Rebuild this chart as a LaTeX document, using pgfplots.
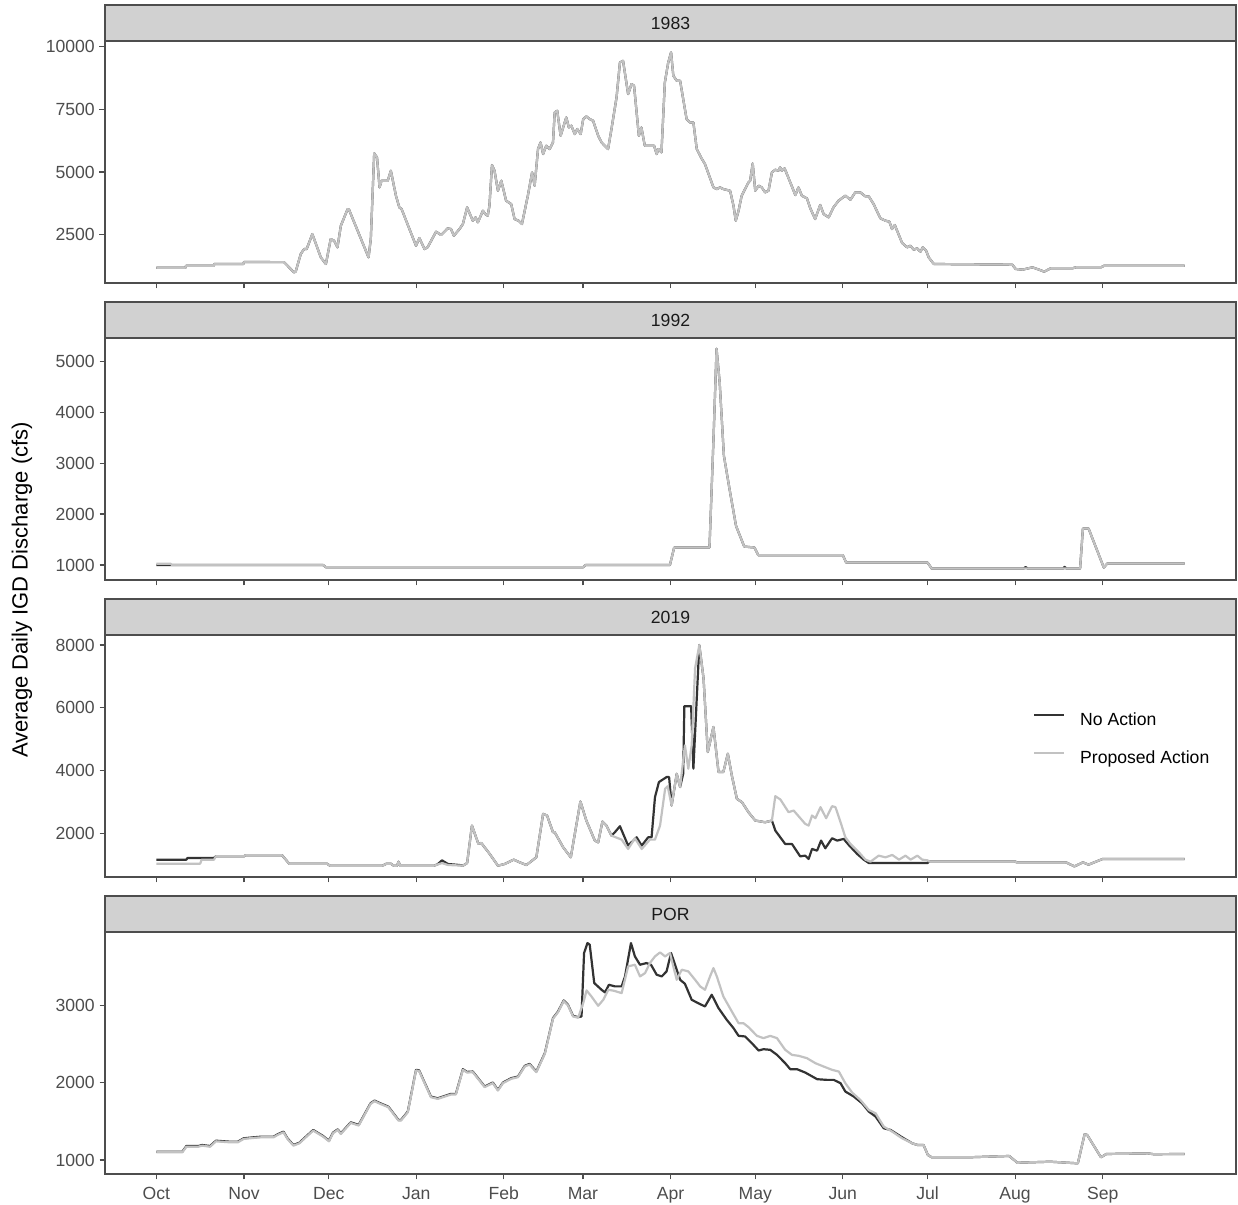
\documentclass[border=0pt]{standalone}
\usepackage{pgfplots}
\usepackage{pgfplotstable}
\pgfplotsset{compat=1.18}
\usepackage{fontspec}
\setmainfont{Liberation Sans}
\definecolor{nacol}{HTML}{333333}
\definecolor{pacol}{HTML}{C2C2C2}
\definecolor{bordercol}{HTML}{4D4D4D}
\definecolor{stripfill}{HTML}{D1D1D1}
\definecolor{ticklab}{HTML}{4D4D4D}
\definecolor{striptext}{HTML}{1A1A1A}

\pgfplotstableread{
x y
0 1188
10.3 1188
10.5 1268
20.3 1268
20.5 1334
30.8 1334
31 1415
45.2 1410
48.7 1003
49.3 1030
51.1 1733
52.3 1932
53.2 1932
55.2 2529
58.2 1600
60.0 1335
61.7 2330
62.9 2264
64.1 1998
65.3 2861
67.7 3524
68.2 3497
75.1 1600
75.9 2330
77.1 5740
78.1 5580
79.0 4386
79.7 4652
81.9 4652
83.0 5050
84.8 4055
86.0 3590
86.8 3524
91.9 2065
93.1 2370
94.9 1932
96.0 1998
99.0 2622
100.8 2489
103.1 2754
104.3 2728
105.3 2462
107.3 2728
108.5 2927
110.0 3590
112.0 3060
113.0 3192
113.8 2993
115.6 3458
116.4 3325
117.3 3259
117.9 3657
118.8 5275
119.7 5050
120.9 4254
122.1 4652
123.8 3856
125.6 3723
126.8 3126
128.2 3060
129.4 2927
131.5 4055
133.0 4983
133.9 4453
135.1 5912
136.0 6177
136.9 5713
138.0 6045
139.2 5912
140.4 6177
141.0 7371
141.9 7438
143.1 6443
145.1 7172
146.0 6774
146.9 6841
148.1 6509
149.0 6708
150.2 6509
151.1 7106
152.2 7212
153.4 7106
154.6 7040
156.4 6443
157.6 6177
158.7 6045
159.9 5912
161.1 6708
162.9 7968
164.1 9361
165.2 9428
167.0 8101
168.2 8499
169.1 8433
170.8 6443
171.7 6774
172.9 6045
176.2 6045
177.1 5713
177.7 5912
178.8 5779
180.0 8565
181.2 9361
182.2 9759
183.0 8831
184.2 8632
185.4 8632
187.7 7106
188.9 6973
190.1 6973
191.3 5912
192.8 5580
194.2 5315
197.2 4386
198.4 4320
199.5 4386
200.7 4320
203.1 4254
204.3 3657
205.1 3060
206.1 3458
207.2 4055
209.6 4585
210.2 4652
211.1 5342
212.0 4254
213.2 4453
214.3 4386
215.5 4187
216.7 4254
217.9 4983
219.1 5089
220.2 5050
220.8 5182
221.4 5050
222.4 5142
224.4 4585
226.2 4081
227.3 4386
228.5 4055
230.3 3950
231.5 3551
233.2 3127
235.0 3684
236.2 3326
238.0 3193
239.7 3591
241.5 3857
243.9 4056
245.7 3896
247.4 4188
249.2 4188
251.0 4029
252.2 4029
253.9 3724
256.3 3154
258.1 3061
259.5 3021
260.4 2729
261.4 2888
264.0 2172
265.8 1999
266.9 2065
268.1 1906
269.3 1959
270.5 1827
271.3 1999
272.5 1866
273.4 1601
275.2 1336
303.0 1309
304.2 1137
306.6 1110
310.1 1203
312.5 1110
314.3 1031
316.6 1164
324.3 1164
325.5 1203
334.4 1203
335.6 1270
364 1270
}\dataEightyThree

\pgfplotsset{
  panel/.style={
    width=565.5pt, height=121pt, scale only axis,
    anchor=south west,
    xmin=-18.2, xmax=382.2,
    axis line style={draw=bordercol, line width=0.6pt},
    tick style={draw=bordercol, line width=0.6pt},
    tick align=outside, major tick length=2.75pt,
    tick pos=left,
    xtick={0,31,61,92,123,151,182,212,243,273,304,335},
    xticklabels={},
    ticklabel style={font=\fontsize{8.8}{10}\selectfont, text=ticklab},
    yticklabel style={inner sep=0pt, xshift=-2.2pt},
    xticklabel style={inner sep=0pt, text height=6.5pt, text depth=2pt, yshift=-3.5pt},
    /pgf/number format/assume math mode=true,
    /pgf/number format/1000 sep={},
    scaled y ticks=false,
    every axis plot/.append style={line width=1.1pt, line join=round, no marks},
  },
  na/.style={draw=nacol},
  pa/.style={draw=pacol},
}

\begin{document}
\begin{tikzpicture}
\path (0,0) rectangle (619pt,602.5pt);

% ---------- 1983 ----------
\begin{axis}[panel, at={(52.5pt,461pt)}, ymin=580, ymax=10215, ytick={2500,5000,7500,10000}]
\addplot[na] table {\dataEightyThree};
\addplot[pa] table {\dataEightyThree};
\end{axis}

% ---------- 1992 ----------
\begin{axis}[panel, at={(52.5pt,312.5pt)}, ymin=705, ymax=5460, ytick={1000,2000,3000,4000,5000}]
\addplot[na] table {
x y
0 1000
59 1000
60 955
151 955
152 1000
181.8 1000
183.3 1343
195.8 1343
197.3 3600
198.3 5249
199.4 4593
200.9 3147
203.1 2426
205.2 1768
208.1 1362
211.7 1343
213.1 1191
243 1191
244.2 1047
273 1047
274.5 929
307 929
307.7 958
308.5 929
321 929
321.5 962
322.2 929
327 929
328 1717
330 1717
335.4 949
336.6 1028
364 1028
};
\addplot[pa] table {
x y
0 1025
5 1025
5.5 1000
59 1000
60 955
151 955
152 1000
181.8 1000
183.3 1343
195.8 1343
197.3 3600
198.3 5249
199.4 4593
200.9 3147
203.1 2426
205.2 1768
208.1 1362
211.7 1343
213.1 1191
243 1191
244.2 1047
273 1047
274.5 929
327 929
328 1717
330 1717
335.4 949
336.6 1028
364 1028
};
\end{axis}

% ---------- 2019 ----------
\begin{axis}[panel, at={(52.5pt,164pt)}, ymin=607, ymax=8319, ytick={2000,4000,6000,8000},
  legend style={at={(0.8205,0.6795)}, anchor=north west, draw=none, fill=none,
    inner sep=0pt, outer sep=0pt, row sep=10.5pt,
    font=\fontsize{8.8}{10}\selectfont,
    nodes={inner sep=0pt, text height=6.5pt, text depth=2pt},
    /tikz/every odd column/.append style={column sep=7.5pt}},
  legend cell align=left,
  legend image code/.code={\draw[#1] (0pt,3.2pt) -- (15pt,3.2pt);}]
\addplot[na] table {
x y
0 1159
10.6 1159
11 1213
20.4 1213
21 1265
31 1265
31.5 1297
44.5 1297
47 1032
60.4 1032
61.4 968
80 968
81.5 1032
83 1032
84 968
85.2 968
85.7 1096
86.3 968
98.3 968
99.5 1010
101.1 1137
103.2 1021
107.3 989
108.5 968
110 1050
111.7 2246
114.0 1660
115.0 1692
118.0 1340
120.9 968
123.3 1021
126.5 1160
128.6 1074
131.0 989
134.5 1234
136.9 2619
138.3 2565
140.4 2033
141.0 2033
144.0 1553
146.7 1234
150.1 3013
152.2 2406
155.2 1767
156.4 1713
157.9 2374
159.3 2246
161.1 1926
162.3 2033
164.1 2225
167.0 1607
170.0 1873
171.8 1607
174.1 1873
175.3 1873
176.5 3151
177.9 3631
180.6 3791
181.5 3791
182.4 2885
184.2 3897
185.4 3471
186.5 3900
186.9 6049
189.3 6049
190.1 4057
192.2 7998
193.7 6933
195.2 4589
197.2 5389
199.0 3950
200.7 3950
202.3 4536
203.7 3844
205.5 3098
207.3 2992
209.6 2672
212.0 2406
215.5 2352
217.9 2406
219.1 2087
222.6 1660
225.0 1660
227.9 1266
229.7 1287
230.9 1181
232.1 1500
233.9 1447
235.3 1767
236.8 1522
239.2 1841
241.0 1767
243.3 1820
245.1 1628
248.1 1340
250.4 1160
252.2 1053
273 1053
273.5 1105
304 1105
304.5 1073
322 1073
325 945
328 1073
330 1000
332 1073
335 1181
364 1181
};
\addplot[pa] table {
x y
0 1032
15.5 1032
16 1159
20.4 1159
21 1265
31 1265
31.5 1297
44.5 1297
47 1032
60.4 1032
61.4 968
80 968
81.5 1032
83 1032
84 968
85.2 968
85.7 1096
86.3 968
98.3 968
101.1 1050
103.2 990
108.5 968
110 1050
111.7 2246
114.0 1660
115.0 1692
118.0 1340
120.9 968
123.3 1021
126.5 1160
128.6 1074
131.0 989
134.5 1234
136.9 2619
138.3 2565
140.4 2033
141.0 2033
144.0 1553
146.7 1234
150.1 3013
152.2 2406
155.2 1767
156.4 1713
157.9 2374
159.3 2246
161.1 1926
164.7 1798
167.0 1500
169.4 1841
171.8 1500
174.7 1798
176.5 1798
178.3 2246
180.1 3418
181 3500
182.4 2885
184.2 3897
185.4 3471
187.1 4802
188.3 4057
189.5 4802
190.7 7253
192.2 7998
193.7 6933
195.2 4589
197.2 5389
199.0 3950
200.7 3950
202.3 4536
203.7 3844
205.5 3098
207.3 2992
209.6 2672
212.0 2406
215.5 2352
217.9 2406
219.1 3183
220.9 3077
223.8 2672
225.6 2725
229.7 2299
230.9 2246
232.1 2566
233.3 2480
235.1 2832
237.1 2480
239.2 2864
240.4 2832
242.2 2352
243.9 1873
245.7 1660
248.7 1394
251.0 1160
252.8 1095
255.7 1287
258.1 1234
260.5 1309
262.9 1160
265.2 1287
267.0 1160
269.4 1287
271.1 1160
273 1137
273.5 1105
304 1105
304.5 1073
322 1073
325 945
328 1073
330 1000
332 1073
335 1181
364 1181
};
\legend{No Action, Proposed Action}
\end{axis}

% ---------- POR ----------
\begin{axis}[panel, at={(52.5pt,15.5pt)}, ymin=819, ymax=3951, ytick={1000,2000,3000},
  xticklabels={Oct,Nov,Dec,Jan,Feb,Mar,Apr,May,Jun,Jul,Aug,Sep}]
\addplot[na] table {
x y
0 1108
9.2 1108
10.6 1181
14.8 1181
16.2 1194
19.0 1181
21.1 1250
26.0 1237
28.8 1237
30.9 1281
34.4 1294
37.2 1302
41.5 1302
42.9 1333
45.0 1367
46.4 1281
48.5 1194
50.6 1224
55.5 1389
59.0 1311
61.1 1250
62.5 1354
64.2 1397
65.3 1345
68.8 1488
71.6 1454
75.8 1734
77.2 1769
79.3 1734
82.1 1691
85.7 1518
86.6 1519
89.0 1627
91.9 2167
93 2160
97.2 1821
99.6 1799
104.3 1856
106 1856
108.5 2175
110 2140
112.0 2145
116.2 1951
119.1 2003
120.9 1907
122.7 2003
125.6 2059
128.0 2080
130.4 2218
132.1 2244
134.5 2145
137.5 2383
140.4 2836
142.2 2923
144.2 3065
145.7 3009
147.5 2866
149.3 2849
150.5 2858
151.4 3679
152.6 3808
153.4 3787
155.0 3290
157.6 3203
158.8 3169
160.2 3268
162.3 3247
164.7 3247
165.9 3376
168.0 3808
169.4 3635
171.2 3527
173.5 3549
175.1 3527
177.1 3398
178.9 3376
180.6 3441
182.2 3679
184.2 3463
185.4 3333
187.1 3281
189.5 3074
191.3 3039
194.2 2987
196.6 3139
199.0 2966
201.9 2815
204.3 2707
206.1 2607
208.4 2599
210.8 2512
213.2 2417
214.9 2434
217.3 2426
219.7 2361
222.6 2253
224.4 2175
226.8 2175
229.7 2132
233.9 2046
237.4 2037
239.8 2037
242.2 1994
243.9 1886
246.9 1821
249.8 1735
252.2 1627
254.6 1562
257.5 1411
259.9 1389
264.0 1294
267.6 1216
269.4 1195
271.6 1194
273.1 1065
274.5 1035
287.5 1035
294 1043
301.9 1052
304.8 965
316.4 978
326.2 957
328.6 1333
329.5 1325
334.4 1035
336.3 1078
351 1086
353 1075
364 1078
};
\addplot[pa] table {
x y
0 1100
9.2 1100
10.6 1172
14.8 1172
16.2 1186
19.0 1172
21.1 1242
26.0 1229
28.8 1229
30.9 1273
34.4 1286
37.2 1294
41.5 1294
42.9 1325
45.0 1359
46.4 1273
48.5 1186
50.6 1216
55.5 1381
59.0 1303
61.1 1242
62.5 1346
64.2 1389
65.3 1337
68.8 1480
71.6 1446
75.8 1726
77.2 1761
79.3 1726
82.1 1683
85.7 1510
86.6 1511
89.0 1619
91.9 2159
93 2152
97.2 1813
99.6 1791
104.3 1848
106 1848
108.5 2167
110 2132
112.0 2137
116.2 1943
119.1 1995
120.9 1899
122.7 1995
125.6 2051
128.0 2072
130.4 2210
132.1 2236
134.5 2137
137.5 2375
140.4 2828
142.2 2915
144.2 3057
145.7 3001
147.5 2858
149.3 2841
151.1 3031
152.3 3195
154.0 3117
156.4 2996
158.2 3074
160.0 3203
162 3190
164.7 3160
167.0 3506
169.4 3527
171.2 3376
173.0 3419
174.7 3549
176.5 3635
178.3 3687
180.1 3635
181.8 3679
183.0 3506
184.2 3333
186.0 3463
188.3 3441
190.7 3333
192.5 3247
194.2 3203
196.0 3376
197.2 3484
198.4 3376
200.7 3117
203.7 2923
206.1 2771
207.8 2771
209.6 2720
212.6 2607
214.9 2577
217.3 2607
219.7 2577
222.6 2426
225.0 2361
227.4 2348
230.3 2318
233.3 2253
236.2 2210
239.2 2167
241.6 2145
243.9 1994
246.3 1873
249.2 1778
252.2 1648
254.6 1605
257.5 1432
260.5 1367
264.0 1281
267.6 1216
269.4 1195
271.6 1194
273.1 1065
274.5 1035
287.5 1035
294 1043
301.9 1052
304.8 965
316.4 978
326.2 957
328.6 1333
329.5 1325
334.4 1035
336.3 1078
351 1086
353 1075
364 1078
};
\end{axis}

% ---------- strips ----------
\foreach \yb/\lab in {582/1983, 433.5/1992, 285/2019, 136.5/POR}{
  \filldraw[fill=stripfill, draw=bordercol, line width=0.6pt] (52.5pt,\yb pt) rectangle (618pt,\yb pt+18pt);
  \node[text=striptext, font=\fontsize{8.8}{10}\selectfont, inner sep=0pt] at (335.25pt,\yb pt+9pt) {\lab};
}

% ---------- y label ----------
\node[rotate=90, font=\fontsize{11}{13}\selectfont, inner sep=0pt] at (11pt,307.5pt) {Average Daily IGD Discharge (cfs)};
\end{tikzpicture}
\end{document}
